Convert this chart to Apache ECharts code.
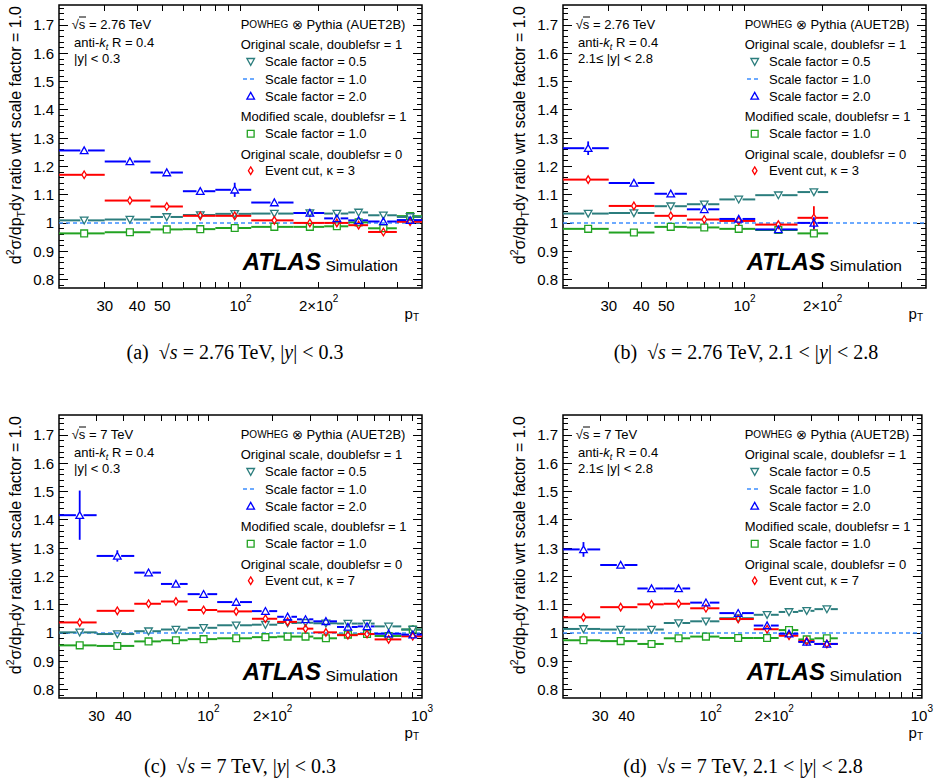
<!DOCTYPE html>
<html><head><meta charset="utf-8">
<script src="https://cdn.jsdelivr.net/npm/echarts@6/dist/echarts.min.js"></script>
<style>html,body{margin:0;padding:0;background:#fff}#c{width:936px;height:780px}</style>
</head><body><div id="c"></div>
<script>
// ---------- binning (pT, GeV) ----------
const edges276 = [20,30,45,60,80,110,160,210,260,310,400,500];
const centers276 = [25,37.5,52,70,95,135,185,235,285,355,450];
const edges7 = [20,30,45,60,80,110,160,210,260,310,400,500,600,800,1000];
const centers7 = [25,37.5,52.5,70.5,95,135,185,235,285,355,450,553,698,905];

// ---------- tick labels ----------
const yTickLabels = [0.8,0.9,1.0,1.1,1.2,1.3,1.4,1.5,1.6,1.7];
const xLabels276 = [30,40,50,100,200];
const xLabels7 = [30,40,100,200,1000];
const refValue = 1.0;

// ---------- (a) 2.76 TeV, |y|<0.3 ----------
const sf05_a = [1.009,1.012,1.021,1.028,1.032,1.033,1.035,1.033,1.037,1.027,1.021];
const sf05_a_err = [0.003,0.003,0.003,0.003,0.003,0.003,0.004,0.004,0.005,0.005,0.006];
const sf20_a = [1.256,1.217,1.178,1.112,1.117,1.072,1.035,1.016,1.009,1.005,1.010];
const sf20_a_err = [0.008,0.006,0.005,0.006,0.025,0.005,0.005,0.005,0.006,0.006,0.006];
const mod_a = [0.963,0.967,0.977,0.978,0.982,0.986,0.986,0.988,1.002,0.981,1.024];
const mod_a_err = [0.003,0.003,0.003,0.003,0.003,0.003,0.004,0.004,0.005,0.005,0.006];
const evt_a = [1.170,1.079,1.058,1.025,1.025,1.009,1.000,1.000,0.992,0.968,1.004];
const evt_a_err = [0.004,0.004,0.004,0.005,0.008,0.005,0.005,0.005,0.006,0.008,0.008];

// ---------- (b) 2.76 TeV, 2.1<|y|<2.8 ----------
const sf05_b = [1.033,1.035,1.059,1.066,1.083,1.098,1.109];
const sf05_b_err = [0.004,0.004,0.004,0.012,0.004,0.005,0.006];
const sf20_b = [1.264,1.141,1.103,1.048,1.014,0.977,1.000];
const sf20_b_err = [0.024,0.006,0.006,0.010,0.008,0.008,0.020];
const mod_b = [0.979,0.966,0.986,0.984,0.979,0.975,0.963];
const mod_b_err = [0.003,0.003,0.003,0.004,0.004,0.005,0.012];
const evt_b = [1.153,1.060,1.025,1.012,1.007,0.994,1.018];
const evt_b_err = [0.005,0.005,0.005,0.005,0.008,0.008,0.041];

// ---------- (c) 7 TeV, |y|<0.3 ----------
const sf05_c = [1.002,0.996,1.006,1.012,1.018,1.027,1.029,1.035,1.036,1.034,1.033,1.033,1.023,1.012];
const sf05_c_err = [0.006,0.004,0.003,0.003,0.003,0.003,0.003,0.003,0.004,0.004,0.005,0.006,0.007,0.015];
const sf20_c = [1.416,1.272,1.213,1.173,1.137,1.109,1.077,1.057,1.048,1.041,1.021,1.023,0.997,0.994];
const sf20_c_err = [0.087,0.020,0.008,0.006,0.006,0.006,0.008,0.008,0.008,0.008,0.008,0.008,0.008,0.012];
const mod_c = [0.956,0.954,0.970,0.974,0.978,0.981,0.985,0.987,0.987,0.981,0.994,0.996,0.989,1.012];
const mod_c_err = [0.004,0.003,0.003,0.003,0.003,0.003,0.003,0.003,0.004,0.004,0.005,0.006,0.007,0.015];
const evt_c = [1.037,1.078,1.103,1.111,1.081,1.076,1.050,1.039,1.015,1.002,0.992,0.996,0.977,0.988];
const evt_c_err = [0.004,0.004,0.004,0.004,0.004,0.004,0.005,0.005,0.005,0.005,0.006,0.006,0.008,0.010];

// ---------- (d) 7 TeV, 2.1<|y|<2.8 ----------
const sf05_d = [1.014,1.012,1.012,1.035,1.041,1.052,1.064,1.074,1.078,1.084];
const sf05_d_err = [0.004,0.003,0.003,0.004,0.004,0.004,0.004,0.004,0.004,0.004];
const sf20_d = [1.295,1.240,1.157,1.157,1.107,1.070,1.026,0.997,0.968,0.961];
const sf20_d_err = [0.026,0.008,0.008,0.012,0.010,0.010,0.010,0.010,0.008,0.008];
const mod_d = [0.974,0.971,0.961,0.981,0.987,0.982,0.982,1.010,0.977,0.981];
const mod_d_err = [0.003,0.003,0.003,0.003,0.003,0.004,0.004,0.012,0.005,0.005];
const evt_d = [1.055,1.091,1.101,1.103,1.087,1.049,1.013,0.990,0.971,0.961];
const evt_d_err = [0.004,0.004,0.004,0.004,0.005,0.005,0.006,0.008,0.008,0.008];

// ---------- styling ----------
const FONT = '"Liberation Sans", Arial, Helvetica, sans-serif';
const SERIF = '"Liberation Serif", "Times New Roman", serif';
const C_TEAL = '#2b7d7d', C_BLUE = '#0000ff', C_GREEN = '#22a322', C_RED = '#ff0000', C_DASH = '#3d8eff';
const W = 363, H = 283;

const panels = [
  {L:59, T:5, xmax:500, edges:edges276, centers:centers276, sf05:sf05_a, sf05e:sf05_a_err, sf20:sf20_a, sf20e:sf20_a_err, mod:mod_a, mode:mod_a_err, evt:evt_a, evte:evt_a_err, xLabels:xLabels276, energy:'2.76', rap:'|y| < 0.3', kappa:'3', cap:'(a)', capRap:'central', capX:235, capY:352, ptY:25},
  {L:563, T:5, xmax:500, edges:edges276, centers:centers276, sf05:sf05_b, sf05e:sf05_b_err, sf20:sf20_b, sf20e:sf20_b_err, mod:mod_b, mode:mod_b_err, evt:evt_b, evte:evt_b_err, xLabels:xLabels276, energy:'2.76', rap:'2.1\u2264 |y| < 2.8', kappa:'3', cap:'(b)', capRap:'fwd', capX:746, capY:352, ptY:25},
  {L:59, T:415, xmax:1000, edges:edges7, centers:centers7, sf05:sf05_c, sf05e:sf05_c_err, sf20:sf20_c, sf20e:sf20_c_err, mod:mod_c, mode:mod_c_err, evt:evt_c, evte:evt_c_err, xLabels:xLabels7, energy:'7', rap:'|y| < 0.3', kappa:'7', cap:'(c)', capRap:'central', capX:240, capY:766, ptY:34},
  {L:563, T:415, xmax:1000, edges:edges7, centers:centers7, sf05:sf05_d, sf05e:sf05_d_err, sf20:sf20_d, sf20e:sf20_d_err, mod:mod_d, mode:mod_d_err, evt:evt_d, evte:evt_d_err, xLabels:xLabels7, energy:'7', rap:'2.1\u2264 |y| < 2.8', kappa:'7', cap:'(d)', capRap:'fwd', capX:743, capY:766, ptY:34}
];

// tick positions (log axis: every integer multiple of a power of ten)
function logTicks(max) {
  const t = [];
  for (let d = 10; d < max; d *= 10) for (let k = 1; k <= 9; k++) { const v = k * d; if (v > 20 && v < max) t.push(v); }
  return t;
}
const yMinor = [];
for (let k = 39; k <= 88; k++) { const v = +(k * 0.02).toFixed(2); if (Math.abs(v * 10 - Math.round(v * 10)) > 1e-6) yMinor.push(v); }

function markerPath(shape, cx, cy) {
  if (shape === 'down') return {type:'polygon', shape:{points:[[cx-3.8,cy-3.2],[cx+3.8,cy-3.2],[cx,cy+3.6]]}};
  if (shape === 'up') return {type:'polygon', shape:{points:[[cx-3.8,cy+3.2],[cx+3.8,cy+3.2],[cx,cy-3.6]]}};
  if (shape === 'square') return {type:'rect', shape:{x:cx-3.4,y:cy-3.4,width:6.8,height:6.8}};
  return {type:'polygon', shape:{points:[[cx,cy-3.8],[cx+2.3,cy],[cx,cy+3.8],[cx-2.3,cy]]}};
}
const RAD = {down:3.8, up:3.8, square:3.4, diamond:2.3};
const RADV = {down:3.4, up:3.4, square:3.4, diamond:3.8};

function renderFactory(shape, color) {
  return function (params, api) {
    const xc = api.value(0), xlo = api.value(1), xhi = api.value(2), y = api.value(3), e = api.value(4);
    const pL = api.coord([xlo, y]), pR = api.coord([xhi, y]), pC = api.coord([xc, y]);
    const pT = api.coord([xc, y + e]), pB = api.coord([xc, y - e]);
    const r = RAD[shape], rv = RADV[shape];
    const ls = {stroke: color, lineWidth: 2};
    const ch = [];
    ch.push({type:'line', shape:{x1:pL[0], y1:pC[1], x2:pC[0]-r, y2:pC[1]}, style:ls});
    ch.push({type:'line', shape:{x1:pC[0]+r, y1:pC[1], x2:pR[0], y2:pC[1]}, style:ls});
    if (pC[1] - pT[1] > rv) ch.push({type:'line', shape:{x1:pC[0], y1:pT[1], x2:pC[0], y2:pC[1]-rv}, style:{stroke:color, lineWidth:1.8}});
    if (pB[1] - pC[1] > rv) ch.push({type:'line', shape:{x1:pC[0], y1:pC[1]+rv, x2:pC[0], y2:pB[1]}, style:{stroke:color, lineWidth:1.8}});
    const m = markerPath(shape, pC[0], pC[1]);
    m.style = {stroke: color, fill: 'none', lineWidth: 1.3};
    ch.push(m);
    return {type:'group', children: ch};
  };
}

function xFmt(v) {
  const r = Math.round(v);
  if (r === 100) return '{n|10}{s|2}';
  if (r === 200) return '{n|2\u00d710}{s|2}';
  if (r === 1000) return '{n|10}{s|3}';
  return '{n|' + r + '}';
}
const xRich = {n:{fontSize:15, fontFamily:FONT, color:'#000', lineHeight:20, verticalAlign:'bottom'}, s:{fontSize:10, fontFamily:FONT, color:'#000', lineHeight:12, verticalAlign:'top'}};

const grid = [], xAxis = [], yAxis = [], series = [], graphic = [];
panels.forEach((p, i) => {
  grid.push({left:p.L, top:p.T, width:W, height:H, show:true, borderColor:'#000', borderWidth:1.5, backgroundColor:'rgba(0,0,0,0)'});
  const ticks = logTicks(p.xmax);
  const baseX = {gridIndex:i, type:'log', logBase:10, min:20, max:p.xmax, axisLine:{show:false}, splitLine:{show:false}, minorTick:{show:false}};
  xAxis.push(Object.assign({}, baseX, {position:'bottom',
    axisTick:{show:true, inside:true, length:6, customValues:ticks, lineStyle:{color:'#000', width:1}},
    axisLabel:{show:true, customValues:p.xLabels, formatter:xFmt, rich:xRich, margin:5, hideOverlap:false, showMinLabel:true, showMaxLabel:true}}));
  xAxis.push(Object.assign({}, baseX, {position:'top',
    axisTick:{show:true, inside:true, length:6, customValues:ticks, lineStyle:{color:'#000', width:1}},
    axisLabel:{show:false}}));
  const baseY = {gridIndex:i, type:'value', min:0.77, max:1.77, axisLine:{show:false}, splitLine:{show:false}};
  ['left','right'].forEach(pos => {
    yAxis.push(Object.assign({}, baseY, {position:pos,
      axisTick:{show:true, inside:true, length:9, customValues:yTickLabels, lineStyle:{color:'#000', width:1}},
      axisLabel:{show: pos === 'left', customValues:yTickLabels, formatter:v => String(+v.toFixed(1)), fontSize:15, fontFamily:FONT, color:'#000', margin:5}}));
    yAxis.push(Object.assign({}, baseY, {position:pos,
      axisTick:{show:true, inside:true, length:5, customValues:yMinor, lineStyle:{color:'#000', width:1}},
      axisLabel:{show:false}}));
  });
  const xi = 2 * i, yi = 4 * i;
  // reference dashed line (scale factor 1.0)
  series.push({type:'line', name:'Scale factor = 1.0', xAxisIndex:xi, yAxisIndex:yi, data:[[20, refValue],[p.xmax, refValue]], symbol:'none', silent:true,
    lineStyle:{color:C_DASH, width:1.5, type:[4,3]}, z:1});
  const mk = (vals, errs) => vals.map((v, k) => [p.centers[k], p.edges[k], p.edges[k+1], v, errs[k]]);
  const defs = [
    {name:'Modified scale, Scale factor = 1.0', vals:p.mod, errs:p.mode, shape:'square', color:C_GREEN},
    {name:'Scale factor = 0.5', vals:p.sf05, errs:p.sf05e, shape:'down', color:C_TEAL},
    {name:'Event cut', vals:p.evt, errs:p.evte, shape:'diamond', color:C_RED},
    {name:'Scale factor = 2.0', vals:p.sf20, errs:p.sf20e, shape:'up', color:C_BLUE}
  ];
  defs.forEach((d, k) => {
    series.push({type:'custom', name:d.name, xAxisIndex:xi, yAxisIndex:yi, renderItem:renderFactory(d.shape, d.color),
      data:mk(d.vals, d.errs), encode:{x:[0,1,2], y:[3]}, clip:true, silent:true, z:2 + k});
  });

  // ---------- texts ----------
  const L = p.L, T = p.T;
  const txt = (x, y, text, extra) => graphic.push(Object.assign({type:'text', x, y, silent:true,
    style:Object.assign({text, fontSize:13, fontFamily:FONT, fill:'#000', align:'left', verticalAlign:'middle'}, extra || {})}));
  // left block
  txt(L + 12.7, T + 19, '\u221as = ' + p.energy + ' TeV');
  graphic.push({type:'line', silent:true, shape:{x1:L + 20, y1:T + 12, x2:L + 27, y2:T + 12}, style:{stroke:'#000', lineWidth:1}});
  txt(L + 15, T + 37, '{r|anti-}{i|k}{sb|t}{r| R = 0.4}', {rich:{r:{fontSize:13, fontFamily:FONT, lineHeight:18, verticalAlign:'middle'}, i:{fontSize:13, fontFamily:FONT, fontStyle:'italic', lineHeight:18}, sb:{fontSize:9, fontFamily:FONT, fontStyle:'italic', lineHeight:8, verticalAlign:'bottom'}}});
  txt(L + 15, T + 53.3, p.rap);
  // legend block
  const hx = L + 181.7, mx = L + 191.7, tx = L + 206;
  txt(hx, T + 19, '{a|P}{b|OWHEG}{a| \u2297 Pythia (AUET2B)}', {rich:{a:{fontSize:13, fontFamily:FONT}, b:{fontSize:10, fontFamily:FONT}}});
  txt(hx, T + 39.3, 'Original scale, doublefsr = 1');
  txt(tx, T + 56.7, 'Scale factor = 0.5');
  txt(tx, T + 74, 'Scale factor = 1.0');
  txt(tx, T + 91, 'Scale factor = 2.0');
  txt(hx, T + 111.7, 'Modified scale, doublefsr = 1');
  txt(tx, T + 128.7, 'Scale factor = 1.0');
  txt(hx, T + 149.7, 'Original scale, doublefsr = 0');
  txt(tx, T + 165.7, 'Event cut, \u03ba = ' + p.kappa);
  const sym = (shape, color, cy) => { const m = markerPath(shape, mx, cy); m.style = {stroke:color, fill:'none', lineWidth:1.3}; m.silent = true; graphic.push(m); };
  sym('down', C_TEAL, T + 56.7);
  graphic.push({type:'line', silent:true, shape:{x1:L + 184, y1:T + 74, x2:L + 198, y2:T + 74}, style:{stroke:C_DASH, lineWidth:1.5, lineDash:[4,3]}});
  sym('up', C_BLUE, T + 91);
  sym('square', C_GREEN, T + 128.7);
  sym('diamond', C_RED, T + 165.7);
  // ATLAS label
  txt(L + 183.7, T + 268.5, 'ATLAS', {fontSize:24, fontWeight:'bold', fontStyle:'italic', verticalAlign:'bottom'});
  txt(L + 266.5, T + 268.5, 'Simulation', {fontSize:15.5, verticalAlign:'bottom'});
  // axis titles
  graphic.push({type:'text', x:L - 44, y:T + 1, rotation:Math.PI/2, silent:true,
    style:{text:'{r|d}{s|2}{r|\u03c3/dp}{b|T}{r|dy ratio wrt scale factor = 1.0}', align:'right', verticalAlign:'middle', fill:'#000',
      rich:{r:{fontSize:16, fontFamily:FONT, lineHeight:22}, s:{fontSize:10.5, fontFamily:FONT, lineHeight:12, verticalAlign:'top'}, b:{fontSize:10.5, fontFamily:FONT, lineHeight:10, verticalAlign:'bottom'}}}});
  graphic.push({type:'text', x:L + W - 3, y:T + H + p.ptY, silent:true,
    style:{text:'{r|p}{b|T}', align:'right', verticalAlign:'middle', fill:'#000',
      rich:{r:{fontSize:15, fontFamily:FONT, lineHeight:18}, b:{fontSize:10, fontFamily:FONT, lineHeight:10, verticalAlign:'bottom'}}}});
  // caption
  const capRich = {r:{fontSize:20, fontFamily:SERIF, color:'#000'}, i:{fontSize:20, fontFamily:SERIF, fontStyle:'italic', color:'#000'}};
  const capText = p.capRap === 'central'
    ? '{r|' + p.cap + '  \u221a}{i|s}{r| = ' + p.energy + ' TeV, |}{i|y}{r|| < 0.3}'
    : '{r|' + p.cap + '  \u221a}{i|s}{r| = ' + p.energy + ' TeV, 2.1 < |}{i|y}{r|| < 2.8}';
  graphic.push({type:'text', x:p.capX, y:p.capY, silent:true, style:{text:capText, align:'center', verticalAlign:'middle', rich:capRich}});
});

const chart = echarts.init(document.getElementById('c'), null, {renderer:'svg'});
chart.setOption({animation:false, backgroundColor:'#fff', grid, xAxis, yAxis, series, graphic});
</script></body></html>
